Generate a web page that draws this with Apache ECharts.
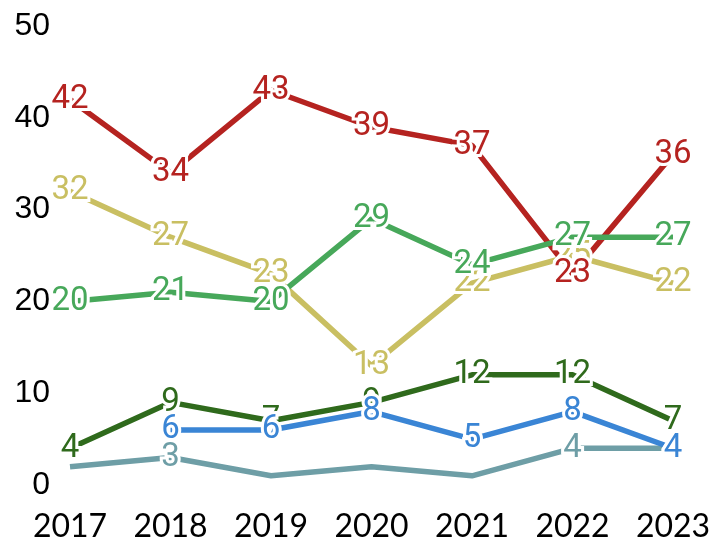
<!DOCTYPE html>
<html><head><meta charset="utf-8">
<script src="https://cdn.jsdelivr.net/npm/echarts@6/dist/echarts.min.js"></script>
<style>html,body{margin:0;padding:0;background:#fff}#c{width:715px;height:545px}</style>
</head><body><div id="c"></div>
<script>
const years = ['2017','2018','2019','2020','2021','2022','2023'];
const yTicks = [0,10,20,30,40,50];
const grayVals = [2,3,1,2,1,4,4];
const darkGreenVals = [4,9,7,9,12,12,7];
const blueVals = [null,6,6,8,5,8,4];
const yellowVals = [32,27,23,13,22,25,22];
const redVals = [42,34,43,39,37,23,36];
const greenVals = [20,21,20,29,24,27,27];
const grayMinLabel = 3;

function mk(name, data, color, fmt){
  return {
    name, type:'line', data, symbol:'circle', symbolSize:0, showSymbol:true, connectNulls:false,
    lineStyle:{color, width:5.5}, itemStyle:{color},
    label:{show:true, position:'inside', color, fontSize:33, fontFamily:'Roboto, Liberation Sans, Arial, sans-serif',
      textBorderColor:'#fff', textBorderWidth:6,
      formatter: fmt || (p=>p.value==null?'':String(p.value))},
    labelLayout:{hideOverlap:false},
    emphasis:{disabled:true}, animation:false
  };
}
const chart = echarts.init(document.getElementById('c'));
chart.setOption({
  animation:false,
  grid:{left:70,right:42,top:26,bottom:60,containLabel:false},
  xAxis:{type:'category', data:years, boundaryGap:false,
    axisLine:{show:false}, axisTick:{show:false},
    axisLabel:{interval:0, color:'#000', fontSize:32, fontFamily:'Lato, sans-serif', margin:26}},
  yAxis:{type:'value', min:yTicks[0], max:yTicks[yTicks.length-1], interval:10,
    axisLine:{show:false}, axisTick:{show:false}, splitLine:{show:false},
    axisLabel:{color:'#000', fontSize:32, fontFamily:'Liberation Sans, Arial, sans-serif', margin:20}},
  series:[
    mk('gray', grayVals, '#6e9ea6', p=>p.value>=grayMinLabel?String(p.value):''),
    mk('darkgreen', darkGreenVals, '#2f6a1c'),
    mk('blue', blueVals, '#3a85d5'),
    mk('yellow', yellowVals, '#c9bf62'),
    mk('red', redVals, '#b52320'),
    mk('green', greenVals, '#47a85a')
  ]
});
</script></body></html>
